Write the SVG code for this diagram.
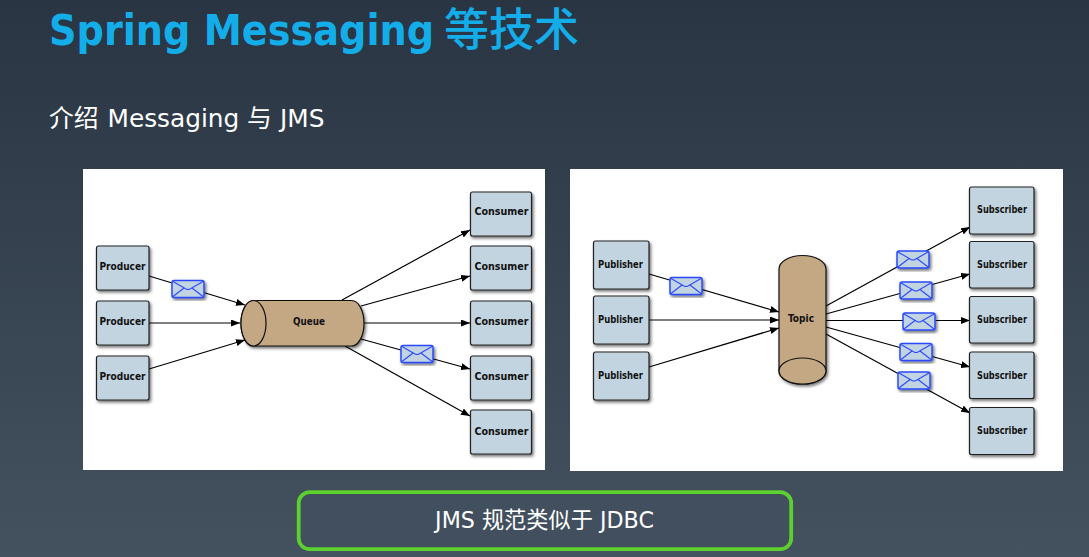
<svg xmlns="http://www.w3.org/2000/svg" width="1089" height="557" viewBox="0 0 1089 557">
<defs>
<linearGradient id="bg" x1="0" y1="0" x2="0" y2="1"><stop offset="0" stop-color="#293543"/><stop offset="1" stop-color="#44515f"/></linearGradient>
<filter id="sh" x="-20%" y="-20%" width="140%" height="140%"><feDropShadow dx="1.5" dy="2" stdDeviation="1.5" flood-color="#000" flood-opacity="0.55"/></filter>
<marker id="arr" viewBox="0 0 9 7" refX="9" refY="3.500" markerWidth="9" markerHeight="7" markerUnits="userSpaceOnUse" orient="auto"><path d="M0 0L9 3.500L0 7z" fill="#000"/></marker>
<g id="env"><rect x="0" y="0" width="32" height="17" rx="2" fill="#c2d4e0" stroke="#2a4aff" stroke-width="1.500" filter="url(#sh)"/><path d="M1 1L14 8.500Q16 9.500 18 8.500L31 1M1 16L12 7.500M31 16L20 7.500" fill="none" stroke="#2a4aff" stroke-width="1.100"/></g>
</defs>
<style>
.n{fill:#c2d4e0;stroke:#222;stroke-width:1.200;filter:url(#sh)}
.l{font-family:"DejaVu Sans",sans-serif;font-weight:700;font-stretch:condensed;font-size:10.300px;fill:#111;text-anchor:middle}
.c{fill:none;stroke:#000;stroke-width:1.200;marker-end:url(#arr)}
.t{font-family:"DejaVu Sans","Noto Sans CJK SC",sans-serif}
</style>
<rect width="1089" height="557" fill="url(#bg)"/>
<text class="t" x="49" y="45" font-size="42.500" font-weight="700" style="font-stretch:condensed" fill="#13ade9">Spring Messaging<tspan x="444" y="46" font-size="45" font-weight="500" font-family="Noto Sans CJK SC, sans-serif">等技术</tspan></text>
<text class="t" x="49" y="127" font-size="24.800" fill="#fff">介绍<tspan x="107.500">Messaging</tspan><tspan x="247">与</tspan><tspan x="280">JMS</tspan></text>
<rect x="83" y="169" width="462" height="301" fill="#fff"/>
<rect x="570" y="169" width="493" height="302" fill="#fff"/>
<g id="connectors">
<path class="c" d="M149 276L245 305"/>
<path class="c" d="M149 323L240 323"/>
<path class="c" d="M149 369L245 340"/>
<path class="c" d="M342 300L470 230"/>
<path class="c" d="M361 306L470 276"/>
<path class="c" d="M364 323L470 323"/>
<path class="c" d="M361 339L470 369"/>
<path class="c" d="M345 346L470 416"/>
<path class="c" d="M649 274L779 312"/>
<path class="c" d="M649 320L779 320"/>
<path class="c" d="M649 367L779 328"/>
<path class="c" d="M826 306L970 227"/>
<path class="c" d="M826 314L970 274"/>
<path class="c" d="M826 320.500L970 320.500"/>
<path class="c" d="M826 327L970 367"/>
<path class="c" d="M826 334L970 413"/>
</g>
<g id="producer1"><rect class="n" x="96.500" y="246" width="52.500" height="44" rx="2"/><text class="l" x="122.500" y="270" textLength="46" lengthAdjust="spacingAndGlyphs">Producer</text></g>
<g id="producer2"><rect class="n" x="96.500" y="301" width="52.500" height="44" rx="2"/><text class="l" x="122.500" y="324.500" textLength="46" lengthAdjust="spacingAndGlyphs">Producer</text></g>
<g id="producer3"><rect class="n" x="96.500" y="356" width="52.500" height="44" rx="2"/><text class="l" x="122.500" y="380" textLength="46" lengthAdjust="spacingAndGlyphs">Producer</text></g>
<g id="consumer1"><rect class="n" x="470.500" y="192" width="61" height="44" rx="2"/><text class="l" x="501.500" y="215" textLength="54" lengthAdjust="spacingAndGlyphs">Consumer</text></g>
<g id="consumer2"><rect class="n" x="470.500" y="246" width="61" height="44" rx="2"/><text class="l" x="501.500" y="270" textLength="54" lengthAdjust="spacingAndGlyphs">Consumer</text></g>
<g id="consumer3"><rect class="n" x="470.500" y="301" width="61" height="44" rx="2"/><text class="l" x="501.500" y="325" textLength="54" lengthAdjust="spacingAndGlyphs">Consumer</text></g>
<g id="consumer4"><rect class="n" x="470.500" y="356" width="61" height="44" rx="2"/><text class="l" x="501.500" y="380" textLength="54" lengthAdjust="spacingAndGlyphs">Consumer</text></g>
<g id="consumer5"><rect class="n" x="470.500" y="410" width="61" height="44" rx="2"/><text class="l" x="501.500" y="434.500" textLength="54" lengthAdjust="spacingAndGlyphs">Consumer</text></g>
<g id="queue"><path d="M253.500 300.500H351.500A12.500 22.750 0 0 1 351.500 346H253.500A12.500 22.750 0 0 1 253.500 300.500z" fill="#c4a883" stroke="#111" stroke-width="1.200" filter="url(#sh)"/><ellipse cx="253.500" cy="323.250" rx="12.500" ry="22.750" fill="#c4a883" stroke="#111" stroke-width="1.200"/><text class="l" x="309" y="325" textLength="32" lengthAdjust="spacingAndGlyphs">Queue</text></g>
<use id="msg1" href="#env" x="172" y="280.500"/>
<use id="msg2" href="#env" x="401" y="345.500"/>
<g id="publisher1"><rect class="n" x="593.500" y="241" width="55.500" height="48" rx="2"/><text class="l" x="620.500" y="268" textLength="45" lengthAdjust="spacingAndGlyphs">Publisher</text></g>
<g id="publisher2"><rect class="n" x="593.500" y="296" width="55.500" height="48" rx="2"/><text class="l" x="620.500" y="323" textLength="45" lengthAdjust="spacingAndGlyphs">Publisher</text></g>
<g id="publisher3"><rect class="n" x="593.500" y="352" width="55.500" height="48" rx="2"/><text class="l" x="620.500" y="378.500" textLength="45" lengthAdjust="spacingAndGlyphs">Publisher</text></g>
<g id="subscriber1"><rect class="n" x="969.500" y="187" width="64.500" height="47" rx="2"/><text class="l" x="1002" y="212.500" textLength="50" lengthAdjust="spacingAndGlyphs">Subscriber</text></g>
<g id="subscriber2"><rect class="n" x="969.500" y="241.500" width="64.500" height="46.500" rx="2"/><text class="l" x="1002" y="268" textLength="50" lengthAdjust="spacingAndGlyphs">Subscriber</text></g>
<g id="subscriber3"><rect class="n" x="969.500" y="296.500" width="64.500" height="46.500" rx="2"/><text class="l" x="1002" y="323" textLength="50" lengthAdjust="spacingAndGlyphs">Subscriber</text></g>
<g id="subscriber4"><rect class="n" x="969.500" y="352" width="64.500" height="46.500" rx="2"/><text class="l" x="1002" y="378.500" textLength="50" lengthAdjust="spacingAndGlyphs">Subscriber</text></g>
<g id="subscriber5"><rect class="n" x="969.500" y="407.500" width="64.500" height="47" rx="2"/><text class="l" x="1002" y="433.500" textLength="50" lengthAdjust="spacingAndGlyphs">Subscriber</text></g>
<g id="topic"><path d="M779 269A23.500 13.500 0 0 1 826 269V371A23.500 13 0 0 1 779 371z" fill="#c4a883" stroke="#111" stroke-width="1.200" filter="url(#sh)"/><ellipse cx="802.500" cy="371" rx="23.500" ry="13" fill="#c4a883" stroke="#111" stroke-width="1.200"/><text class="l" x="801" y="322" textLength="26" lengthAdjust="spacingAndGlyphs">Topic</text></g>
<use id="msg3" href="#env" x="670" y="277.500"/>
<use id="msg4" href="#env" x="897" y="251"/>
<use id="msg5" href="#env" x="900" y="282"/>
<use id="msg6" href="#env" x="903" y="313"/>
<use id="msg7" href="#env" x="900" y="343.500"/>
<use id="msg8" href="#env" x="898" y="372"/>
<g id="note"><rect x="298.700" y="492.200" width="492.500" height="57" rx="11" fill="#414f5e" stroke="#5bd02e" stroke-width="3.800"/><text class="t" x="544.500" y="528" font-size="22.200" fill="#fff" text-anchor="middle">JMS 规范类似于 JDBC</text></g>
</svg>
